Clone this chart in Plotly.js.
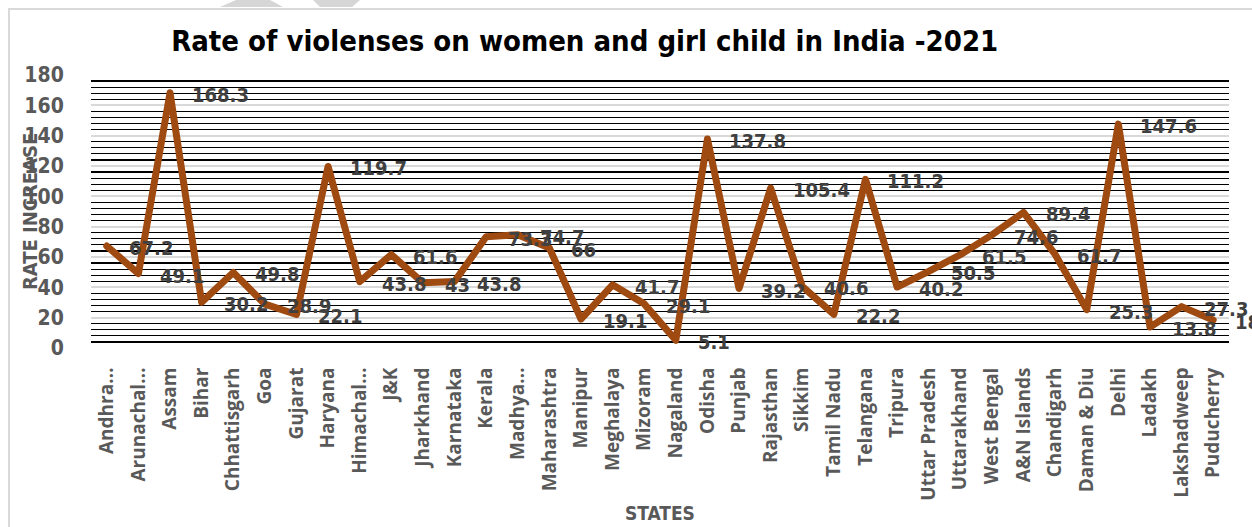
<!DOCTYPE html>
<html>
<head>
<meta charset="utf-8">
<script src="https://cdn.plot.ly/plotly-3.0.1.min.js"></script>
<style>
  html, body { margin: 0; padding: 0; background: #ffffff; overflow: hidden; }
  #wrap { position: relative; width: 1252px; height: 527px; }
  #chart { position: absolute; left: 0; top: 0; width: 1252px; height: 527px; }
  #frame { position: absolute; left: 8px; top: 8px; width: 1260px; height: 540px;
           border-left: 2px solid #d9d9d9; border-top: 2px solid #d9d9d9; pointer-events: none; }
  #deco { position: absolute; left: 0; top: 0; pointer-events: none; }
  .scatterlayer .js-line { stroke-linejoin: round !important; stroke-linecap: round !important; }
</style>
</head>
<body>
<div id="wrap">
  <div id="chart"></div>
  <svg id="deco" width="400" height="10">
    <polygon points="220,7 236,0 270,0 283,7" fill="#d6d6d6"/>
    <polygon points="313,0 360,0 352,7 320,7" fill="#d6d6d6"/>
  </svg>
  <div id="frame"></div>
</div>
<script>
const states = ["Andhra Pradesh","Arunachal Pradesh","Assam","Bihar","Chhattisgarh","Goa","Gujarat","Haryana","Himachal Pradesh","J&K","Jharkhand","Karnataka","Kerala","Madhya Pradesh","Maharashtra","Manipur","Meghalaya","Mizoram","Nagaland","Odisha","Punjab","Rajasthan","Sikkim","Tamil Nadu","Telangana","Tripura","Uttar Pradesh","Uttarakhand","West Bengal","A&N Islands","Chandigarh","Daman & Diu","Delhi","Ladakh","Lakshadweep","Puducherry"];
const tickLabels = ["Andhra…","Arunachal…","Assam","Bihar","Chhattisgarh","Goa","Gujarat","Haryana","Himachal…","J&K","Jharkhand","Karnataka","Kerala","Madhya…","Maharashtra","Manipur","Meghalaya","Mizoram","Nagaland","Odisha","Punjab","Rajasthan","Sikkim","Tamil Nadu","Telangana","Tripura","Uttar Pradesh","Uttarakhand","West Bengal","A&N Islands","Chandigarh","Daman & Diu","Delhi","Ladakh","Lakshadweep","Puducherry"];
const rates = [67.2,49.1,168.3,30.2,49.8,28.9,22.1,119.7,43.8,61.6,43,43.8,73.3,74.7,66,19.1,41.7,29.1,5.1,137.8,39.2,105.4,40.6,22.2,111.2,40.2,50.5,61.5,74.6,89.4,61.7,25.3,147.6,13.8,27.3,18.5];
const yTicks = [0,20,40,60,80,100,120,140,160,180];

const narrow = '"Liberation Sans Narrow", "DejaVu Sans Condensed", "Roboto", sans-serif';
const gray = '#595959';

const trace = {
  type: 'scatter',
  mode: 'lines',
  x: states,
  y: rates,
  line: { color: '#9E4A10', width: 7 },
  hoverinfo: 'x+y'
};

const labelAnns = states.map((s, i) => ({
  x: s, y: rates[i], xref: 'x', yref: 'y',
  text: String(rates[i]), showarrow: false,
  xanchor: 'left', yanchor: 'middle', xshift: 20, yshift: -2,
  font: { family: narrow, size: 20, color: '#404040', weight: 'bold' }
}));

const axisAnns = [
  { text: 'RATE INCREASE', xref: 'paper', yref: 'paper', x: -0.054, y: 0.5,
    xanchor: 'center', yanchor: 'middle', textangle: -90, showarrow: false,
    font: { family: narrow, size: 20, color: gray, weight: 'bold' } },
  { text: 'STATES', xref: 'paper', yref: 'paper', x: 0.5, y: -0.605,
    xanchor: 'center', yanchor: 'middle', showarrow: false,
    font: { family: narrow, size: 19, color: gray, weight: 'bold' } }
];

const layout = {
  width: 1252, height: 527,
  margin: { l: 91, r: 23, t: 75, b: 179 },
  paper_bgcolor: '#ffffff', plot_bgcolor: '#ffffff',
  showlegend: false,
  title: {
    text: 'Rate of violenses on women and girl child in India -2021',
    x: 0.467, xanchor: 'center', y: 1 - 41/527, yanchor: 'middle',
    font: { family: narrow, size: 29, color: '#000000', weight: 'bold' }
  },
  xaxis: {
    type: 'category',
    range: [-0.5, 35.5],
    tickmode: 'array', tickvals: states, ticktext: tickLabels,
    tickangle: -90,
    ticks: 'outside', ticklen: 11, tickcolor: 'rgba(0,0,0,0)',
    tickfont: { family: '"Open Sans", "DejaVu Sans", sans-serif', size: 19, color: gray, weight: 'bold' },
    showgrid: false, zeroline: false, showline: false, fixedrange: true
  },
  yaxis: {
    range: [0, 180],
    tickmode: 'array', tickvals: yTicks, ticktext: yTicks.map(String),
    ticks: 'outside', ticklen: 22, tickcolor: 'rgba(0,0,0,0)',
    tickfont: { family: narrow, size: 21, color: gray, weight: 'bold' },
    showgrid: true, gridcolor: '#d9d9d9', gridwidth: 2,
    minor: { dtick: 4, tick0: 0, showgrid: true, gridcolor: '#000000', gridwidth: 1.2, ticks: '' },
    zeroline: false, showline: false, fixedrange: true
  },
  annotations: labelAnns.concat(axisAnns)
};

Plotly.newPlot('chart', [trace], layout, { displayModeBar: false, staticPlot: true });
</script>
</body>
</html>
